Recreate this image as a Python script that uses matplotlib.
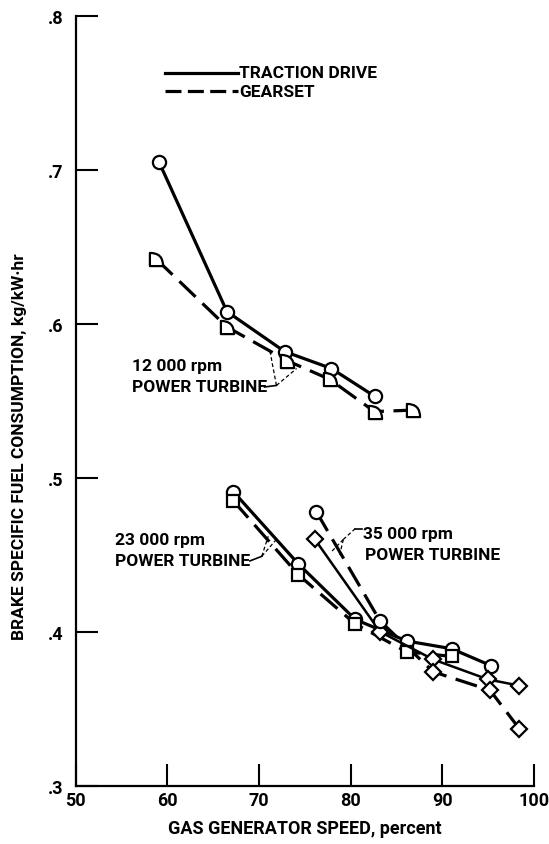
import numpy as np
import matplotlib
matplotlib.use("Agg")
from matplotlib import pyplot as plt
from matplotlib.path import Path

plt.rcParams['font.family'] = ['Roboto', 'DejaVu Sans']
plt.rcParams['font.weight'] = 'bold'
plt.rcParams['axes.labelweight'] = 'bold'

# 12 000 rpm power turbine
x12_trac = [59.1, 66.5, 72.8, 77.9, 82.6]
y12_trac = [0.705, 0.608, 0.582, 0.571, 0.553]
x12_gear = [58.8, 66.5, 73.1, 77.7, 82.6, 86.8]
y12_gear = [0.642, 0.598, 0.576, 0.564, 0.543, 0.544]

# 23 000 rpm power turbine
x23_trac = [67.2, 74.3, 80.5, 86.1, 91.0, 95.3]
y23_trac = [0.491, 0.444, 0.408, 0.394, 0.389, 0.378]
x23_gear = [67.2, 74.3, 80.5, 86.1, 91.0]
y23_gear = [0.485, 0.437, 0.405, 0.387, 0.384]

# 35 000 rpm power turbine
x35_trac = [76.1, 83.2, 89.0, 95.0, 98.4]
y35_trac = [0.460, 0.400, 0.382, 0.369, 0.365]
x35_gear = [76.25, 83.2, 89.0, 95.2, 98.4]
y35_gear = [0.478, 0.407, 0.374, 0.362, 0.337]

xticks = [50, 60, 70, 80, 90, 100]
yticks = [0.3, 0.4, 0.5, 0.6, 0.7, 0.8]
ytick_labels = ['.3', '.4', '.5', '.6', '.7', '.8']

# flag shaped symbol used for the 12 000 rpm gearset points
flag = Path([(-1, -1), (-1, 1), (1, 1), (1, -1), (-1, -1)],
            [Path.MOVETO, Path.LINETO, Path.CURVE3, Path.CURVE3, Path.CLOSEPOLY])

LW = 2.3
DASH = (7, 3)
mk = dict(markerfacecolor='white', markeredgecolor='black', markeredgewidth=1.6, zorder=3)

fig = plt.figure(figsize=(5.49, 8.45), dpi=100)
ax = fig.add_axes([0.1379, 0.069, 0.8348, 0.9109])

# solid = traction drive, dashed = gearset
ax.plot(x12_trac, y12_trac, '-', color='black', lw=LW, marker='o', ms=9.5, **mk)
ax.plot(x12_gear, y12_gear, '--', color='black', lw=LW, dashes=DASH, marker=flag, ms=9.5, **mk)
ax.plot(x23_trac, y23_trac, '-', color='black', lw=LW, marker='o', ms=9.5, **mk)
ax.plot(x23_gear, y23_gear, '--', color='black', lw=LW, dashes=DASH, marker='s', ms=8.5, **mk)
ax.plot(x35_trac, y35_trac, '-', color='black', lw=1.8, marker='D', ms=8, **mk)
ax.plot(x35_gear, y35_gear, '--', color='black', lw=LW, dashes=DASH)
ax.plot(x35_gear[:2], y35_gear[:2], 'none', marker='o', ms=9.5, **mk)
ax.plot(x35_gear[2:], y35_gear[2:], 'none', marker='D', ms=8, **mk)

# legend drawn inside the plot
ax.plot([59.7, 67.7], [0.763, 0.763], '-', color='black', lw=LW)
ax.plot([59.7, 67.7], [0.751, 0.751], '--', color='black', lw=LW, dashes=(5, 2))
ax.text(67.8, 0.763, 'TRACTION DRIVE', fontsize=12.5, va='center', ha='left')
ax.text(67.8, 0.751, 'GEARSET', fontsize=12.5, va='center', ha='left')

# curve labels with leaders
lab = dict(fontsize=12.5, va='center', ha='left')
ax.text(56.1, 0.573, '12 000 rpm', **lab)
ax.text(56.1, 0.559, 'POWER TURBINE', **lab)
ax.plot([70.6, 71.9], [0.559, 0.560], color='black', lw=1.2)
ax.plot([71.9, 71.2], [0.560, 0.582], color='black', lw=0.9, dashes=(3, 2))
ax.plot([71.9, 74.1], [0.560, 0.571], color='black', lw=0.9, dashes=(3, 2))

ax.text(54.3, 0.460, '23 000 rpm', **lab)
ax.text(54.3, 0.446, 'POWER TURBINE', **lab)
ax.plot([69.0, 70.3], [0.446, 0.449], color='black', lw=1.2)
ax.plot([70.3, 71.0], [0.449, 0.462], color='black', lw=0.9, dashes=(3, 2))
ax.plot([70.3, 71.9], [0.449, 0.460], color='black', lw=0.9, dashes=(3, 2))

ax.text(81.35, 0.464, '35 000 rpm', **lab)
ax.text(81.55, 0.450, 'POWER TURBINE', **lab)
ax.plot([80.5, 81.25], [0.467, 0.467], color='black', lw=1.2)
ax.plot([80.5, 79.2], [0.467, 0.460], color='black', lw=0.9, dashes=(3, 2))
ax.plot([79.2, 77.9], [0.460, 0.452], color='black', lw=0.9, dashes=(3, 2))
ax.plot([79.2, 78.8], [0.460, 0.450], color='black', lw=0.9, dashes=(3, 2))

ax.set_xlim(50, 100)
ax.set_ylim(0.3, 0.8)
ax.set_xticks(xticks)
ax.set_xticklabels([str(t) for t in xticks])
ax.set_yticks(yticks)
ax.set_yticklabels(ytick_labels)
ax.tick_params(direction='in', length=16, width=1.5, labelsize=13, pad=4)
ax.tick_params(axis='y', pad=9)
for s in ['top', 'right']:
    ax.spines[s].set_visible(False)
for s in ['left', 'bottom']:
    ax.spines[s].set_linewidth(1.6)

ax.set_xlabel('GAS GENERATOR SPEED, percent', fontsize=13, labelpad=7)
fig.text(20 / 549, 1 - 447 / 845, 'BRAKE SPECIFIC FUEL CONSUMPTION, kg/kW\u00b7hr',
         rotation=90, fontsize=12.5, ha='center', va='center')

fig.savefig('out.png', dpi=100)
